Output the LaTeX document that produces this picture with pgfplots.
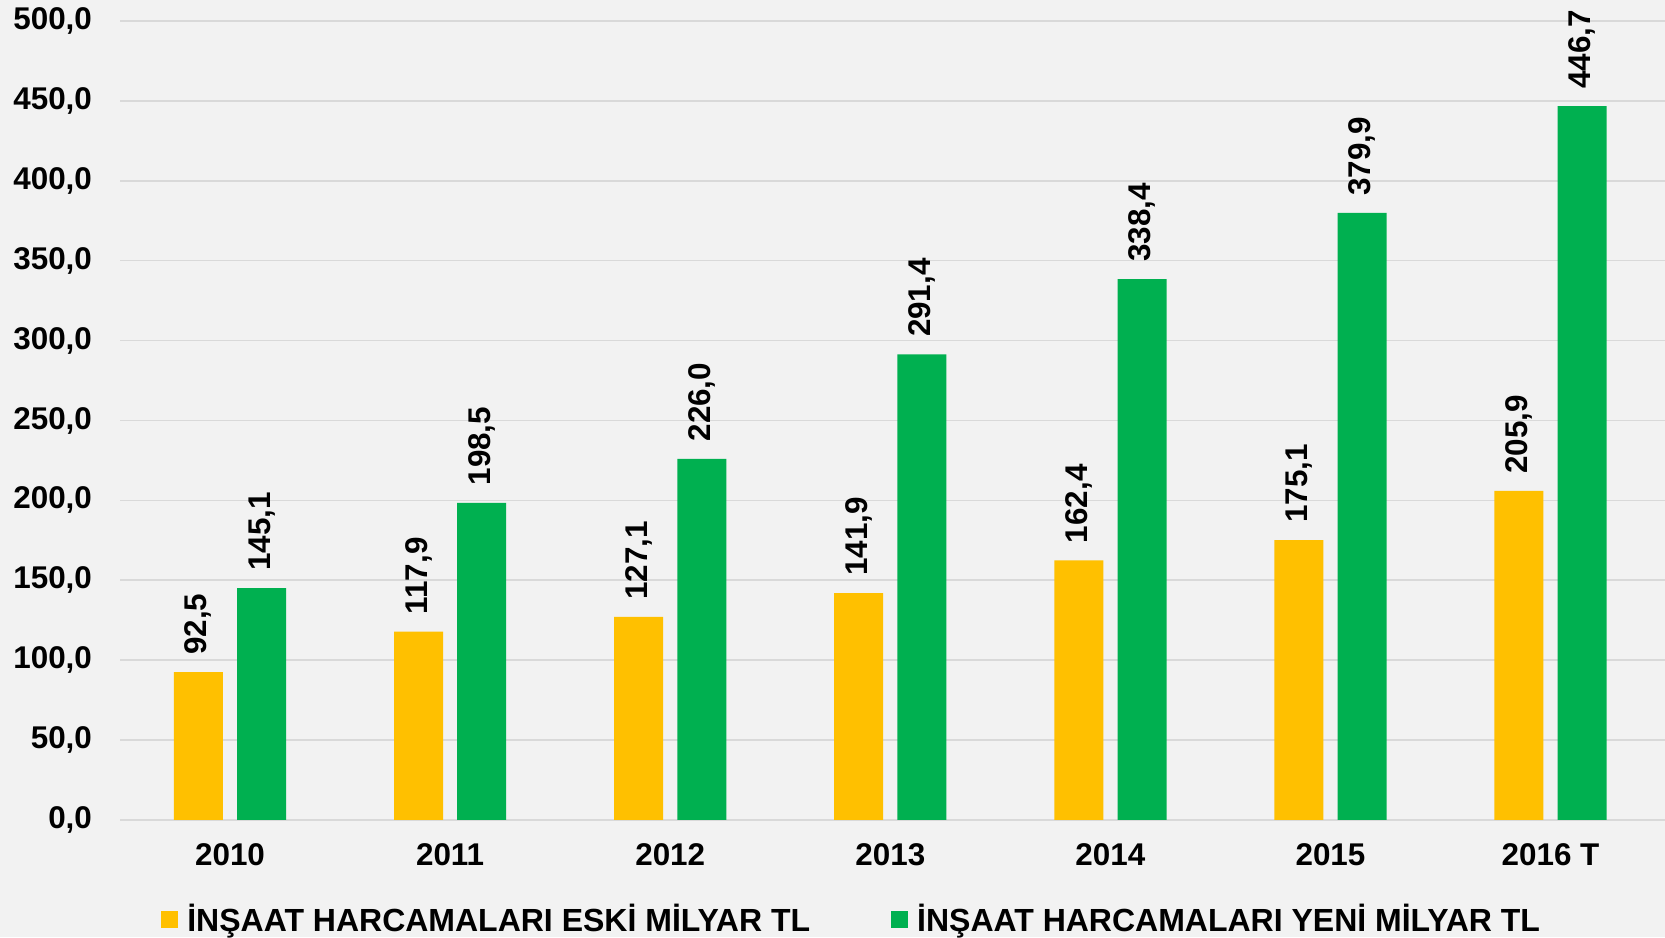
\documentclass[border=0pt]{standalone}
\usepackage{fontspec}
\setmainfont{Liberation Sans}
\usepackage{pgfplots}
\pgfplotsset{compat=1.18}
\definecolor{bgc}{HTML}{F2F2F2}
\definecolor{gridc}{HTML}{D9D9D9}
\definecolor{yel}{HTML}{FFC000}
\definecolor{grn}{HTML}{00B050}
\newcommand{\fnt}{\fontsize{15.7}{18}\selectfont\bfseries}
\newcommand{\lfnt}{\fontsize{16}{18}\selectfont\bfseries}
\begin{document}
\begin{tikzpicture}
\useasboundingbox (0,0) rectangle (832.5pt,468.5pt);
\fill[bgc] (0,0) rectangle (832.5pt,468.5pt);
\begin{axis}[
  at={(60pt,58.5pt)}, anchor=south west,
  scale only axis, width=772.5pt, height=399.5pt,
  ybar, bar width=24.5pt,
  xmin=-0.5, xmax=6.52, ymin=0, ymax=500,
  xtick=data,
  xticklabels={2010,2011,2012,2013,2014,2015,2016 T},
  ytick={0,50,...,500},
  axis x line=bottom, axis y line=left,
  y axis line style={draw=none},
  x axis line style={draw=gridc, line width=1.2pt, -},
  major tick length=0pt, tick style={draw=none},
  ymajorgrids, grid style={draw=gridc, line width=0.8pt},
  /pgf/number format/assume math mode=true,
  yticklabel style={/pgf/number format/fixed, /pgf/number format/fixed zerofill, /pgf/number format/precision=1, /pgf/number format/use comma, /pgf/number format/1000 sep={}},
  ticklabel style={font=\fnt},
  xticklabel style={yshift=-8.3pt},
  yticklabel style={xshift=-10.5pt},
  clip=false,
  nodes near coords,
  nodes near coords style={font=\fnt, rotate=90, anchor=west, inner xsep=8.5pt, inner ysep=0pt,
     /pgf/number format/fixed, /pgf/number format/fixed zerofill, /pgf/number format/precision=1, /pgf/number format/use comma, /pgf/number format/assume math mode=true},
  legend style={draw=none, fill=none, legend columns=2, at={(0.0265,-0.1245)}, anchor=west,
     font=\lfnt, inner sep=0pt,
     /tikz/every odd column/.append style={column sep=2.5pt},
     /tikz/every even column/.append style={column sep=38.5pt}},
  legend image code/.code={\fill[#1,draw=none] (0pt,-4.25pt) rectangle (8.5pt,4.25pt);},
]
\addplot[fill=yel, draw=none, bar shift=-15.8pt] coordinates {(0,92.5) (1,117.9) (2,127.1) (3,141.9) (4,162.4) (5,175.1) (6,205.9)};
\addlegendentry{İNŞAAT HARCAMALARI ESKİ MİLYAR TL}
\addplot[fill=grn, draw=none, bar shift=15.8pt] coordinates {(0,145.1) (1,198.5) (2,226.0) (3,291.4) (4,338.4) (5,379.9) (6,446.7)};
\addlegendentry{İNŞAAT HARCAMALARI YENİ MİLYAR TL}
\end{axis}
\end{tikzpicture}
\end{document}
